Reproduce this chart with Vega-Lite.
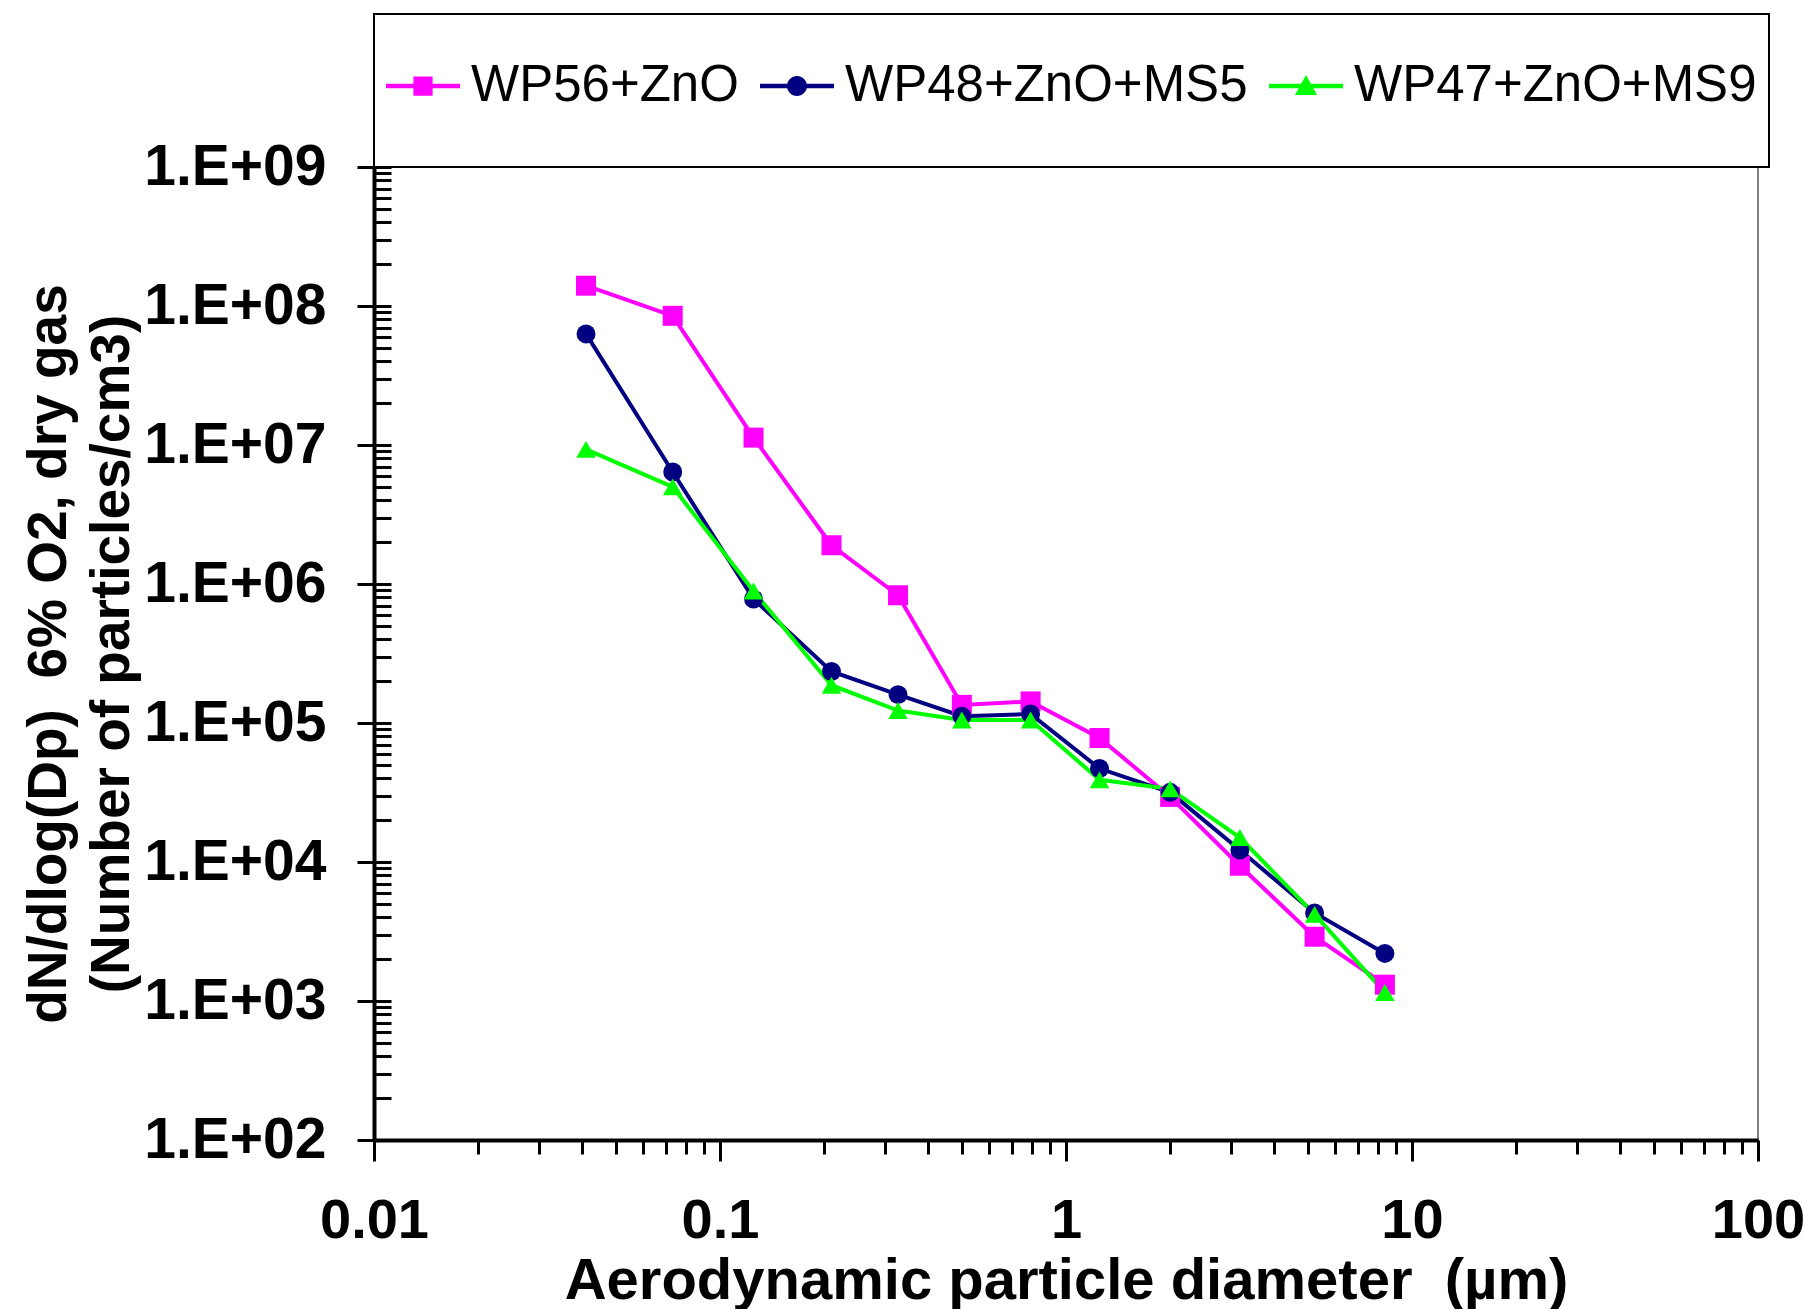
{
  "$schema": "https://vega.github.io/schema/vega-lite/v6.json",
  "width": 1384,
  "height": 973,
  "autosize": "none",
  "padding": {"left": 374, "top": 167, "right": 47, "bottom": 169},
  "background": "white",
  "config": {
    "view": {"stroke": "#808080", "strokeWidth": 2},
    "font": "Liberation Sans"
  },
  "data": {
    "values": [
      {"series": "WP56+ZnO", "d": 0.041, "n": 140000000},
      {"series": "WP56+ZnO", "d": 0.073, "n": 85000000},
      {"series": "WP56+ZnO", "d": 0.125, "n": 11300000},
      {"series": "WP56+ZnO", "d": 0.21, "n": 1900000},
      {"series": "WP56+ZnO", "d": 0.327, "n": 830000},
      {"series": "WP56+ZnO", "d": 0.5, "n": 135000},
      {"series": "WP56+ZnO", "d": 0.79, "n": 143000},
      {"series": "WP56+ZnO", "d": 1.25, "n": 78000},
      {"series": "WP56+ZnO", "d": 2.0, "n": 29400},
      {"series": "WP56+ZnO", "d": 3.18, "n": 9400},
      {"series": "WP56+ZnO", "d": 5.23, "n": 2900},
      {"series": "WP56+ZnO", "d": 8.35, "n": 1310},
      {"series": "WP48+ZnO+MS5", "d": 0.041, "n": 63000000},
      {"series": "WP48+ZnO+MS5", "d": 0.073, "n": 6400000},
      {"series": "WP48+ZnO+MS5", "d": 0.125, "n": 780000},
      {"series": "WP48+ZnO+MS5", "d": 0.21, "n": 235000},
      {"series": "WP48+ZnO+MS5", "d": 0.327, "n": 160000},
      {"series": "WP48+ZnO+MS5", "d": 0.5, "n": 112000},
      {"series": "WP48+ZnO+MS5", "d": 0.79, "n": 116000},
      {"series": "WP48+ZnO+MS5", "d": 1.25, "n": 47000},
      {"series": "WP48+ZnO+MS5", "d": 2.0, "n": 31700},
      {"series": "WP48+ZnO+MS5", "d": 3.18, "n": 12200},
      {"series": "WP48+ZnO+MS5", "d": 5.23, "n": 4300},
      {"series": "WP48+ZnO+MS5", "d": 8.35, "n": 2200},
      {"series": "WP47+ZnO+MS9", "d": 0.041, "n": 9300000},
      {"series": "WP47+ZnO+MS9", "d": 0.073, "n": 5000000},
      {"series": "WP47+ZnO+MS9", "d": 0.125, "n": 890000},
      {"series": "WP47+ZnO+MS9", "d": 0.21, "n": 187000},
      {"series": "WP47+ZnO+MS9", "d": 0.327, "n": 123000},
      {"series": "WP47+ZnO+MS9", "d": 0.5, "n": 105000},
      {"series": "WP47+ZnO+MS9", "d": 0.79, "n": 105000},
      {"series": "WP47+ZnO+MS9", "d": 1.25, "n": 39000},
      {"series": "WP47+ZnO+MS9", "d": 2.0, "n": 33600},
      {"series": "WP47+ZnO+MS9", "d": 3.18, "n": 15000},
      {"series": "WP47+ZnO+MS9", "d": 5.23, "n": 4200},
      {"series": "WP47+ZnO+MS9", "d": 8.35, "n": 1150}
    ]
  },
  "resolve": {"axis": {"x": "independent", "y": "independent"}},
  "layer": [
    {
      "mark": {"type": "line", "strokeWidth": 4},
      "encoding": {
        "x": {
          "field": "d", "type": "quantitative",
          "scale": {"type": "log", "domain": [0.01, 100]},
          "axis": {
            "orient": "bottom",
            "values": [0.01, 0.1, 1, 10, 100],
            "format": "~g",
            "grid": false,
            "domainColor": "black", "domainWidth": 4,
            "tickColor": "black", "tickWidth": 3, "tickSize": 21,
            "labelFont": "Liberation Sans", "labelFontSize": 56, "labelFontWeight": "bold", "labelColor": "black",
            "labelPadding": 32, "labelFlush": false, "labelOverlap": false, "labelLimit": 0,
            "title": "Aerodynamic particle diameter \u00a0(µm)",
            "titleFont": "Liberation Sans", "titleFontSize": 58, "titleFontWeight": "bold", "titleColor": "black",
            "titlePadding": 4, "titleLimit": 0
          }
        },
        "y": {
          "field": "n", "type": "quantitative",
          "scale": {"type": "log", "domain": [100, 1000000000]},
          "axis": {
            "orient": "left",
            "values": [100, 1000, 10000, 100000, 1000000, 10000000, 100000000, 1000000000],
            "labelExpr": "'1.E+0' + round(log(datum.value)/LN10)",
            "grid": false,
            "domainColor": "black", "domainWidth": 4,
            "tickColor": "black", "tickWidth": 3, "tickSize": 17,
            "labelFont": "Liberation Sans", "labelFontSize": 57, "labelFontWeight": "bold", "labelColor": "black",
            "labelPadding": 31, "labelFlush": false, "labelOverlap": false, "labelLimit": 0,
            "title": ["dN/dlog(Dp) \u00a06% O2, dry gas", "(Number of particles/cm3)"],
            "titleFont": "Liberation Sans", "titleFontSize": 55, "titleFontWeight": "bold", "titleColor": "black",
            "titleLineHeight": 63, "titlePadding": 34, "titleLimit": 0
          }
        },
        "color": {
          "field": "series", "type": "nominal",
          "scale": {"domain": ["WP56+ZnO", "WP48+ZnO+MS5", "WP47+ZnO+MS9"], "range": ["#FF00FF", "#000080", "#00FF00"]},
          "legend": {
            "orient": "none", "legendX": 0, "legendY": -153,
            "direction": "horizontal", "columns": 3,
            "title": " ", "titleFontSize": 20, "titlePadding": 3, "titleOrient": "top",
            "padding": 12,
            "fillColor": "white", "strokeColor": "black",
            "labelFont": "Liberation Sans", "labelFontSize": 51, "labelFontWeight": "normal", "labelColor": "black",
            "labelOffset": 11, "columnPadding": 21, "labelLimit": 0,
            "symbolSize": 5476, "symbolStrokeWidth": 0,
            "encode": {
              "legend": {"update": {"strokeWidth": {"value": 2}}},
              "symbols": {
                "update": {
                  "shape": {"signal": "datum.value === 'WP56+ZnO' ? 'M0,1.86M-1,-0.06H1V0.06H-1ZM-0.26,-0.26H0.26V0.26H-0.26Z' : datum.value === 'WP48+ZnO+MS5' ? 'M0,1.86M-1,-0.06H1V0.06H-1ZM0.27,0A0.27,0.27,0,1,1,-0.27,0A0.27,0.27,0,1,1,0.27,0Z' : 'M0,1.86M-1,-0.06H1V0.06H-1ZM0,-0.3L0.3,0.24H-0.3Z'"},
                  "fill": {"signal": "scale('color', datum.value)"},
                  "fillOpacity": {"value": 1},
                  "strokeWidth": {"value": 0}
                }
              }
            }
          }
        },
        "order": {"field": "d", "type": "quantitative"}
      }
    },
    {
      "transform": [{"filter": "datum.series === 'WP56+ZnO'"}],
      "mark": {"type": "point", "filled": true, "opacity": 1, "size": 400, "shape": "square"},
      "encoding": {
        "x": {"field": "d", "type": "quantitative", "axis": null},
        "y": {"field": "n", "type": "quantitative", "axis": null},
        "color": {"field": "series", "type": "nominal"}
      }
    },
    {
      "transform": [{"filter": "datum.series === 'WP48+ZnO+MS5'"}],
      "mark": {"type": "point", "filled": true, "opacity": 1, "size": 360, "shape": "circle"},
      "encoding": {
        "x": {"field": "d", "type": "quantitative", "axis": null},
        "y": {"field": "n", "type": "quantitative", "axis": null},
        "color": {"field": "series", "type": "nominal"}
      }
    },
    {
      "transform": [{"filter": "datum.series === 'WP47+ZnO+MS9'"}],
      "mark": {"type": "point", "filled": true, "opacity": 1, "size": 380, "shape": "triangle-up"},
      "encoding": {
        "x": {"field": "d", "type": "quantitative", "axis": null},
        "y": {"field": "n", "type": "quantitative", "axis": null},
        "color": {"field": "series", "type": "nominal"}
      }
    },
    {
      "mark": {"type": "point", "opacity": 0},
      "encoding": {
        "x": {
          "field": "d", "type": "quantitative",
          "axis": {
            "orient": "bottom", "domain": false, "labels": false, "title": null, "grid": false,
            "tickColor": "black", "tickWidth": 3, "tickSize": 14,
            "values": [0.02, 0.03, 0.04, 0.05, 0.06, 0.07, 0.08, 0.09, 0.2, 0.3, 0.4, 0.5, 0.6, 0.7, 0.8, 0.9, 2, 3, 4, 5, 6, 7, 8, 9, 20, 30, 40, 50, 60, 70, 80, 90]
          }
        },
        "y": {
          "field": "n", "type": "quantitative",
          "axis": {
            "orient": "left", "domain": false, "labels": false, "title": null, "grid": false,
            "tickColor": "black", "tickWidth": 3, "tickSize": -17,
            "values": [100, 200, 300, 400, 500, 600, 700, 800, 900, 1000, 2000, 3000, 4000, 5000, 6000, 7000, 8000, 9000, 10000, 20000, 30000, 40000, 50000, 60000, 70000, 80000, 90000, 100000, 200000, 300000, 400000, 500000, 600000, 700000, 800000, 900000, 1000000, 2000000, 3000000, 4000000, 5000000, 6000000, 7000000, 8000000, 9000000, 10000000, 20000000, 30000000, 40000000, 50000000, 60000000, 70000000, 80000000, 90000000, 100000000, 200000000, 300000000, 400000000, 500000000, 600000000, 700000000, 800000000, 900000000, 1000000000]
          }
        }
      }
    }
  ]
}
